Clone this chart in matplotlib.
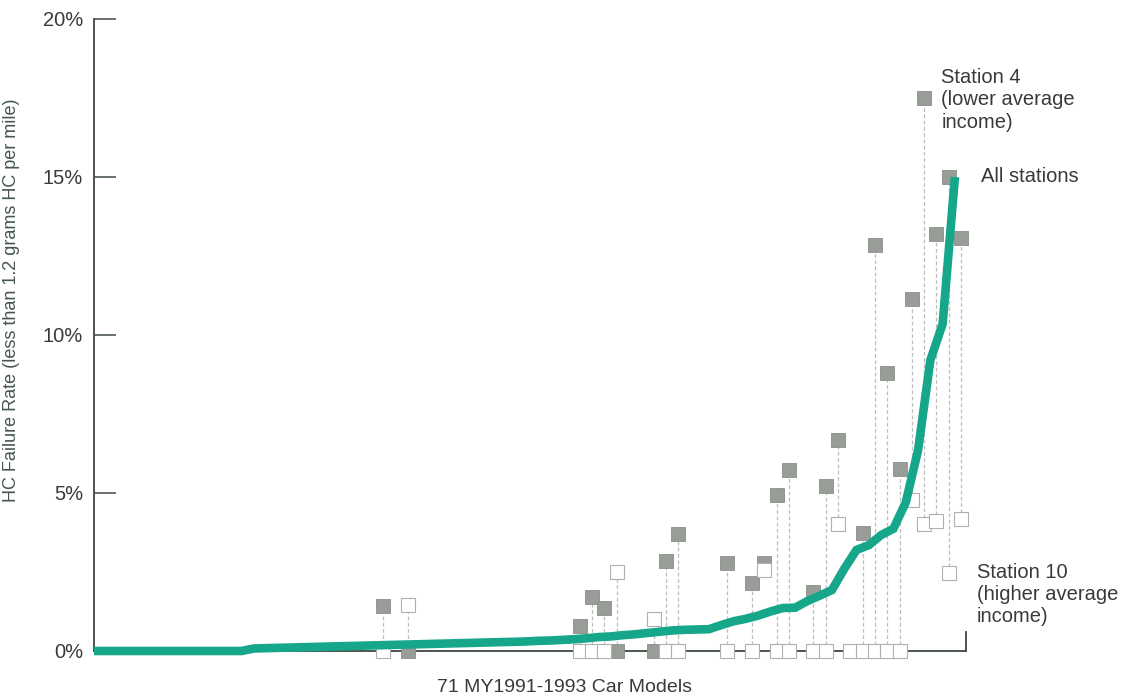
import numpy as np
import matplotlib
matplotlib.use("Agg")
import matplotlib.pyplot as plt

plt.rcParams['font.family'] = ['Liberation Sans', 'DejaVu Sans']

# duong "All stations" - 71 mau xe, da sap xep tang dan (%)
all_stations = [0, 0, 0, 0, 0, 0, 0, 0, 0, 0, 0, 0, 0,
                0.08, 0.09, 0.10, 0.11, 0.12, 0.13, 0.14, 0.15, 0.16, 0.17, 0.18, 0.19,
                0.20, 0.21, 0.22, 0.23, 0.24, 0.25, 0.26, 0.27, 0.28, 0.29, 0.30, 0.32,
                0.33, 0.35, 0.37,
                0.40, 0.44, 0.46, 0.50, 0.53, 0.57, 0.61, 0.65, 0.67, 0.68, 0.69,
                0.82, 0.94, 1.02, 1.12, 1.25, 1.36, 1.37, 1.58, 1.75, 1.93,
                2.6, 3.2, 3.35, 3.67, 3.87, 4.7, 6.35, 9.2, 10.35, 15.0]

# cac mau xe co so lieu tram 4 / tram 10
marker_models = [23, 25, 39, 40, 41, 42, 45, 46, 47, 51, 53, 54, 55, 56, 58,
                 59, 60, 61, 62, 63, 64, 65, 66, 67, 68, 69, 70]
station4 = [1.42, 0, 0.8, 1.7, 1.35, 0, 0, 2.85, 3.7, 2.8, 2.15, 2.8, 4.95, 5.72, 1.88,
            5.23, 6.68, 0, 3.72, 12.85, 8.8, 5.76, 11.15, 17.5, 13.2, 15.0, 13.06]
station10 = [0, 1.46, 0, 0, 0, 2.5, 1.0, 0, 0, 0, 0, 2.55, 0, 0, 0,
             0, 4.02, 0, 0, 0, 0, 0, 4.78, 4.02, 4.1, 2.47, 4.18]

yticks = [0, 5, 10, 15, 20]
ytick_labels = ["0%", "5%", "10%", "15%", "20%"]

axis_color = '#3d4a40'
text_color = '#3a3a3a'
green = '#16a78a'

fig = plt.figure(figsize=(11.21, 6.99), dpi=100)
ax = fig.add_axes([94 / 1121, 48 / 699, 872 / 1121, 632 / 699])

x_line = np.arange(len(all_stations))
# o vuong nam lech nua o sang phai so voi duong
x_mark = np.array(marker_models) + 0.5
s4 = np.array(station4)
s10 = np.array(station10)

# duong net dut noi hai tram
ax.vlines(x_mark, np.minimum(s4, s10), np.maximum(s4, s10),
          colors='#bdbdbd', linestyles=(0, (3, 2)), linewidth=0.9, zorder=1)

ax.plot(x_mark, s4, 's', markersize=9.5, markerfacecolor='#999d97',
        markeredgecolor='#8a8e88', markeredgewidth=0.6, linestyle='none',
        zorder=3, clip_on=False)
ax.plot(x_mark, s10, 's', markersize=9.5, markerfacecolor='white',
        markeredgecolor='#b0b0b0', markeredgewidth=0.8, linestyle='none',
        zorder=3.5, clip_on=False)

ax.plot(x_line, all_stations, color=green, linewidth=6.2,
        solid_capstyle='butt', solid_joinstyle='miter', zorder=4, clip_on=False)

ax.set_xlim(0, 70.9)
ax.set_ylim(0, 20)

ax.spines['top'].set_visible(False)
ax.spines['right'].set_bounds(0, 0.6)
for s in ['left', 'bottom', 'right']:
    ax.spines[s].set_color(axis_color)
    ax.spines[s].set_linewidth(1.3)

ax.set_xticks([])
ax.set_yticks(yticks)
ax.set_yticklabels(ytick_labels)
ax.tick_params(axis='y', direction='in', length=16, width=1.1, color=axis_color,
               pad=8, labelsize=14.5, labelcolor=text_color)

ax.set_ylabel("HC Failure Rate (less than 1.2 grams HC per mile)",
              fontsize=13, color='#45564a')
ax.yaxis.set_label_coords(-0.085, 0.555)
ax.set_xlabel("71 MY1991-1993 Car Models", fontsize=14, color=text_color)
ax.xaxis.set_label_coords(0.54, -0.058)
ax.xaxis.label.set_va('center')

ax.text(68.9, 18.45, "Station 4\n(lower average\nincome)", fontsize=14.5,
        color=text_color, va='top', ha='left', linespacing=1.22)
ax.text(72.1, 15.03, "All stations", fontsize=14.5, color=text_color,
        va='center', ha='left')
ax.text(71.8, 2.8, "Station 10\n(higher average\nincome)", fontsize=14.5,
        color=text_color, va='top', ha='left', linespacing=1.22)

fig.savefig("out.png", dpi=100)
